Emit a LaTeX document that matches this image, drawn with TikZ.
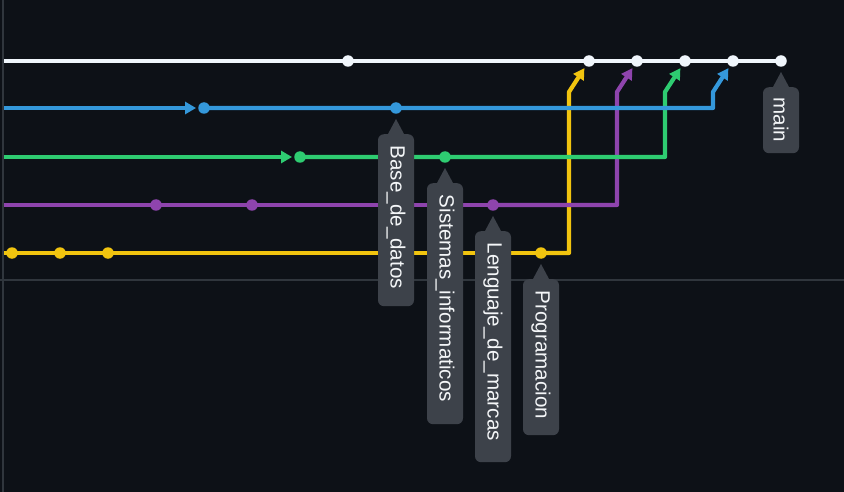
\documentclass[tikz,border=0pt]{standalone}
\usepackage{fontspec}
\setmainfont{Liberation Sans}
\usetikzlibrary{arrows.meta,calc}
\definecolor{bgc}{HTML}{0D1117}
\definecolor{gridc}{HTML}{30363D}
\definecolor{cwhite}{HTML}{F0F6FC}
\definecolor{cblue}{HTML}{3498DB}
\definecolor{cgreen}{HTML}{2ECC71}
\definecolor{cpurple}{HTML}{8E44AD}
\definecolor{cyellow}{HTML}{F1C40F}
\definecolor{lblbg}{HTML}{3D424A}
\definecolor{lbltxt}{HTML}{F4F6F8}
\pgfdeclarelayer{bg}\pgfsetlayers{bg,main}
\begin{document}
\begin{tikzpicture}[x=1pt,y=-1pt,
  lane/.style={line width=4.2pt,line join=round},
  dot/.style={circle,fill=#1,inner sep=0pt,minimum size=11.5pt},
  tipmark/.style={-{Triangle[length=11pt,width=12pt]}},
  lbl/.style={rotate=-90,anchor=west,fill=lblbg,text=lbltxt,rounded corners=6pt,align=left,inner xsep=11.5pt,inner ysep=0pt,minimum height=36pt,font=\fontsize{20.6}{24}\selectfont,text width=#1},
  pointer/.style={fill=lblbg}]
\useasboundingbox (0,0) rectangle (844,492);
% dots
\node[dot=cwhite] (w1) at (348,61) {};
\node[dot=cwhite] (w2) at (589,61) {};
\node[dot=cwhite] (w3) at (637,61) {};
\node[dot=cwhite] (w4) at (685,61) {};
\node[dot=cwhite] (w5) at (733,61) {};
\node[dot=cwhite] (w6) at (781,61) {};
\node[dot=cblue] (b1) at (204,108) {};
\node[dot=cblue] (b2) at (396,108) {};
\node[dot=cgreen] (g1) at (300,157) {};
\node[dot=cgreen] (g2) at (445,157) {};
\node[dot=cpurple] (p1) at (156,205) {};
\node[dot=cpurple] (p2) at (252,205) {};
\node[dot=cpurple] (p3) at (493,205) {};
\node[dot=cyellow] (y1) at (12,253) {};
\node[dot=cyellow] (y2) at (60,253) {};
\node[dot=cyellow] (y3) at (108,253) {};
\node[dot=cyellow] (y4) at (541,253) {};
% lane starts and bends
\coordinate (w0) at (4,61);
\coordinate (b0) at (4,108);
\coordinate (g0) at (4,157);
\coordinate (p0) at (4,205);
\coordinate (y0) at (4,253);
\coordinate (ym) at (569,92);
\coordinate (pm) at (617,92);
\coordinate (gm) at (665,92);
\coordinate (bm) at (713,92);
\begin{pgfonlayer}{bg}
\fill[bgc] (0,0) rectangle (844,492);
\draw[gridc,line width=2pt] (0,280) -- (844,280);
\draw[gridc,line width=2pt] (3,0) -- (3,492);
\draw[lane,cwhite] (w0) -- (w6.center);
\draw[lane,cblue,tipmark,shorten >=2pt] (b0) -- (b1);
\draw[lane,cgreen,tipmark,shorten >=2pt] (g0) -- (g1);
\draw[lane,cpurple] (p0) -- (p3.center);
\draw[lane,cyellow] (y0) -- (y4.center);
\draw[lane,cyellow,tipmark,shorten >=2.5pt] (y4.center) -- (y4 -| ym) -- (ym) -- (w2);
\draw[lane,cpurple,tipmark,shorten >=2.5pt] (p3.center) -- (p3 -| pm) -- (pm) -- (w3);
\draw[lane,cgreen,tipmark,shorten >=2.5pt] (g1.center) -- (g1 -| gm) -- (gm) -- (w4);
\draw[lane,cblue,tipmark,shorten >=2.5pt] (b1.center) -- (b1 -| bm) -- (bm) -- (w5);
\end{pgfonlayer}
% labels
\fill[pointer] (b2) ++(0,11) -- ++(-8,15) -- ++(16,0) -- cycle;
\node[lbl=149pt] (lb) at ($(b2)+(0,26)$) {Base\_de\_datos};
\fill[pointer] (g2) ++(0,11) -- ++(-8,15) -- ++(16,0) -- cycle;
\node[lbl=218pt] (lg) at ($(g2)+(0,26)$) {Sistemas\_informaticos};
\fill[pointer] (p3) ++(0,11) -- ++(-8,15) -- ++(16,0) -- cycle;
\node[lbl=208pt] (lp) at ($(p3)+(0,26)$) {Lenguaje\_de\_marcas};
\fill[pointer] (y4) ++(0,11) -- ++(-8,15) -- ++(16,0) -- cycle;
\node[lbl=133pt] (ly) at ($(y4)+(0,26)$) {Programacion};
\fill[pointer] (w6) ++(0,11) -- ++(-8,15) -- ++(16,0) -- cycle;
\node[lbl=45pt,inner xsep=10.5pt] (lw) at ($(w6)+(0,26)$) {main};
\end{tikzpicture}
\end{document}
